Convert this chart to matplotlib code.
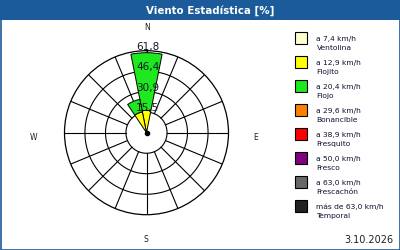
#!/usr/bin/env python3

import numpy as np
import matplotlib.pyplot as plt
from matplotlib.patches import Rectangle

#%% data
sectors = ['N', 'NNE', 'NE', 'ENE', 'E', 'ESE', 'SE', 'SSE',
           'S', 'SSW', 'SW', 'WSW', 'W', 'WNW', 'NW', 'NNW']
# percent per speed class, stacked outward from the centre
ventolina = [0, 0, 0, 0, 0, 0, 0, 0, 0, 0, 0, 0, 0, 0, 0, 0]
flojito = [16.8, 0, 0, 0, 0, 0, 0, 0, 0, 0, 0, 0, 0, 0, 0, 16.0]
flojo = [43.5, 0, 0, 0, 0, 0, 0, 0, 0, 0, 0, 0, 0, 0, 0, 9.6]
bonancible = [0] * 16
fresquito = [0] * 16
fresco = [0] * 16
frescachon = [0] * 16
temporal = [0] * 16

ring_values = [15.5, 30.9, 46.4, 61.8]
ring_labels = ['15,5', '30,9', '46,4', '61,8']

class_limits = ['a 7,4 km/h', 'a 12,9 km/h', 'a 20,4 km/h', 'a 29,6 km/h',
                'a 38,9 km/h', 'a 50,0 km/h', 'a 63,0 km/h', 'más de 63,0 km/h']
class_names = ['Ventolina', 'Flojito', 'Flojo', 'Bonancible',
               'Fresquito', 'Fresco', 'Frescachón', 'Temporal']
class_colors = ['#ffffcc', '#ffff00', '#1ee81e', '#ff8000',
                '#ff0000', '#800080', '#686868', '#222222']

title = 'Viento Estadística [%]'
date_text = '3.10.2026'

#%%
def main():
    W, H = 400, 250
    fig = plt.figure(figsize=(4, 2.5), dpi=100)
    fig.patch.set_facecolor('white')

    def fx(x):
        return x / W

    def fy(y):
        return 1 - y / H

    # title bar and frame
    bar_col = '#1c5b99'
    fig.patches.append(Rectangle((0, fy(20)), 1, 20 / H, transform=fig.transFigure,
                                 facecolor=bar_col, edgecolor='none', zorder=0))
    fig.patches.append(Rectangle((0.5 / W, 0.5 / H), 1 - 1 / W, 1 - 1 / H,
                                 transform=fig.transFigure, facecolor='none',
                                 edgecolor=bar_col, lw=1.2, zorder=5))
    fig.text(fx(210.5), fy(10.5), title, color='white', fontsize=7.4, fontweight='bold',
             ha='center', va='center')

    # polar rose
    cx, cy, rad = 146.5, 132.7, 82
    ax = fig.add_axes([fx(cx - rad), fy(cy + rad), 2 * rad / W, 2 * rad / H],
                      projection='polar')
    ax.set_theta_zero_location('N')
    ax.set_theta_direction(-1)
    ax.set_ylim(0, ring_values[-1])
    ax.grid(False)
    ax.set_xticks([])
    ax.set_yticks([])
    ax.spines['polar'].set_color('black')
    ax.spines['polar'].set_linewidth(0.9)

    n = len(sectors)
    theta = np.arange(n) * 2 * np.pi / n
    width = 2 * np.pi / n

    # grid: circles and spokes outside the innermost ring
    t = np.linspace(0, 2 * np.pi, 400)
    for rv in ring_values[:-1]:
        ax.plot(t, np.full_like(t, rv), color='black', lw=0.8, zorder=1)
    for a in theta:
        ax.plot([a, a], [ring_values[0], ring_values[-1]], color='black', lw=0.8, zorder=1)

    classes = [ventolina, flojito, flojo, bonancible, fresquito, fresco, frescachon, temporal]
    bottom = np.zeros(n)
    for vals, col in zip(classes, class_colors):
        vals = np.array(vals, dtype=float)
        mask = vals > 0
        if mask.any():
            ax.bar(theta[mask], vals[mask], width=width, bottom=bottom[mask],
                   color=col, edgecolor='black', lw=0.7, zorder=3)
        bottom += vals
    ax.plot([0], [0], 'o', color='black', ms=3, zorder=4)

    for rv, lab in zip(ring_values, ring_labels):
        ax.text(0.02, rv + 3.0, lab, ha='center', va='center', fontsize=7.5,
                color='#101828', zorder=6)

    # compass labels
    for lab, (x, y) in zip(['N', 'S', 'W', 'E'],
                           [(146.7, 27), (146, 239), (34, 137), (256, 137)]):
        fig.text(fx(x), fy(y), lab, fontsize=5.5, ha='center', va='center', color='#202020')

    # legend
    for i, (lim, name, col) in enumerate(zip(class_limits, class_names, class_colors)):
        y0 = 31.7 + 24 * i
        fig.patches.append(Rectangle((fx(295), fy(y0 + 12)), 12 / W, 12 / H,
                                     transform=fig.transFigure, facecolor=col,
                                     edgecolor='black', lw=0.8))
        fig.text(fx(316.5), fy(y0 + 7), lim, fontsize=5.4, ha='left', va='center',
                 color='#101030')
        fig.text(fx(316.5), fy(y0 + 16.3), name, fontsize=5.4, ha='left', va='center',
                 color='#101030')

    fig.text(fx(393), fy(240), date_text, fontsize=7, ha='right', va='center',
             color='#202020')

    fig.savefig('out.png', dpi=100)


if __name__ == "__main__":
    main()
